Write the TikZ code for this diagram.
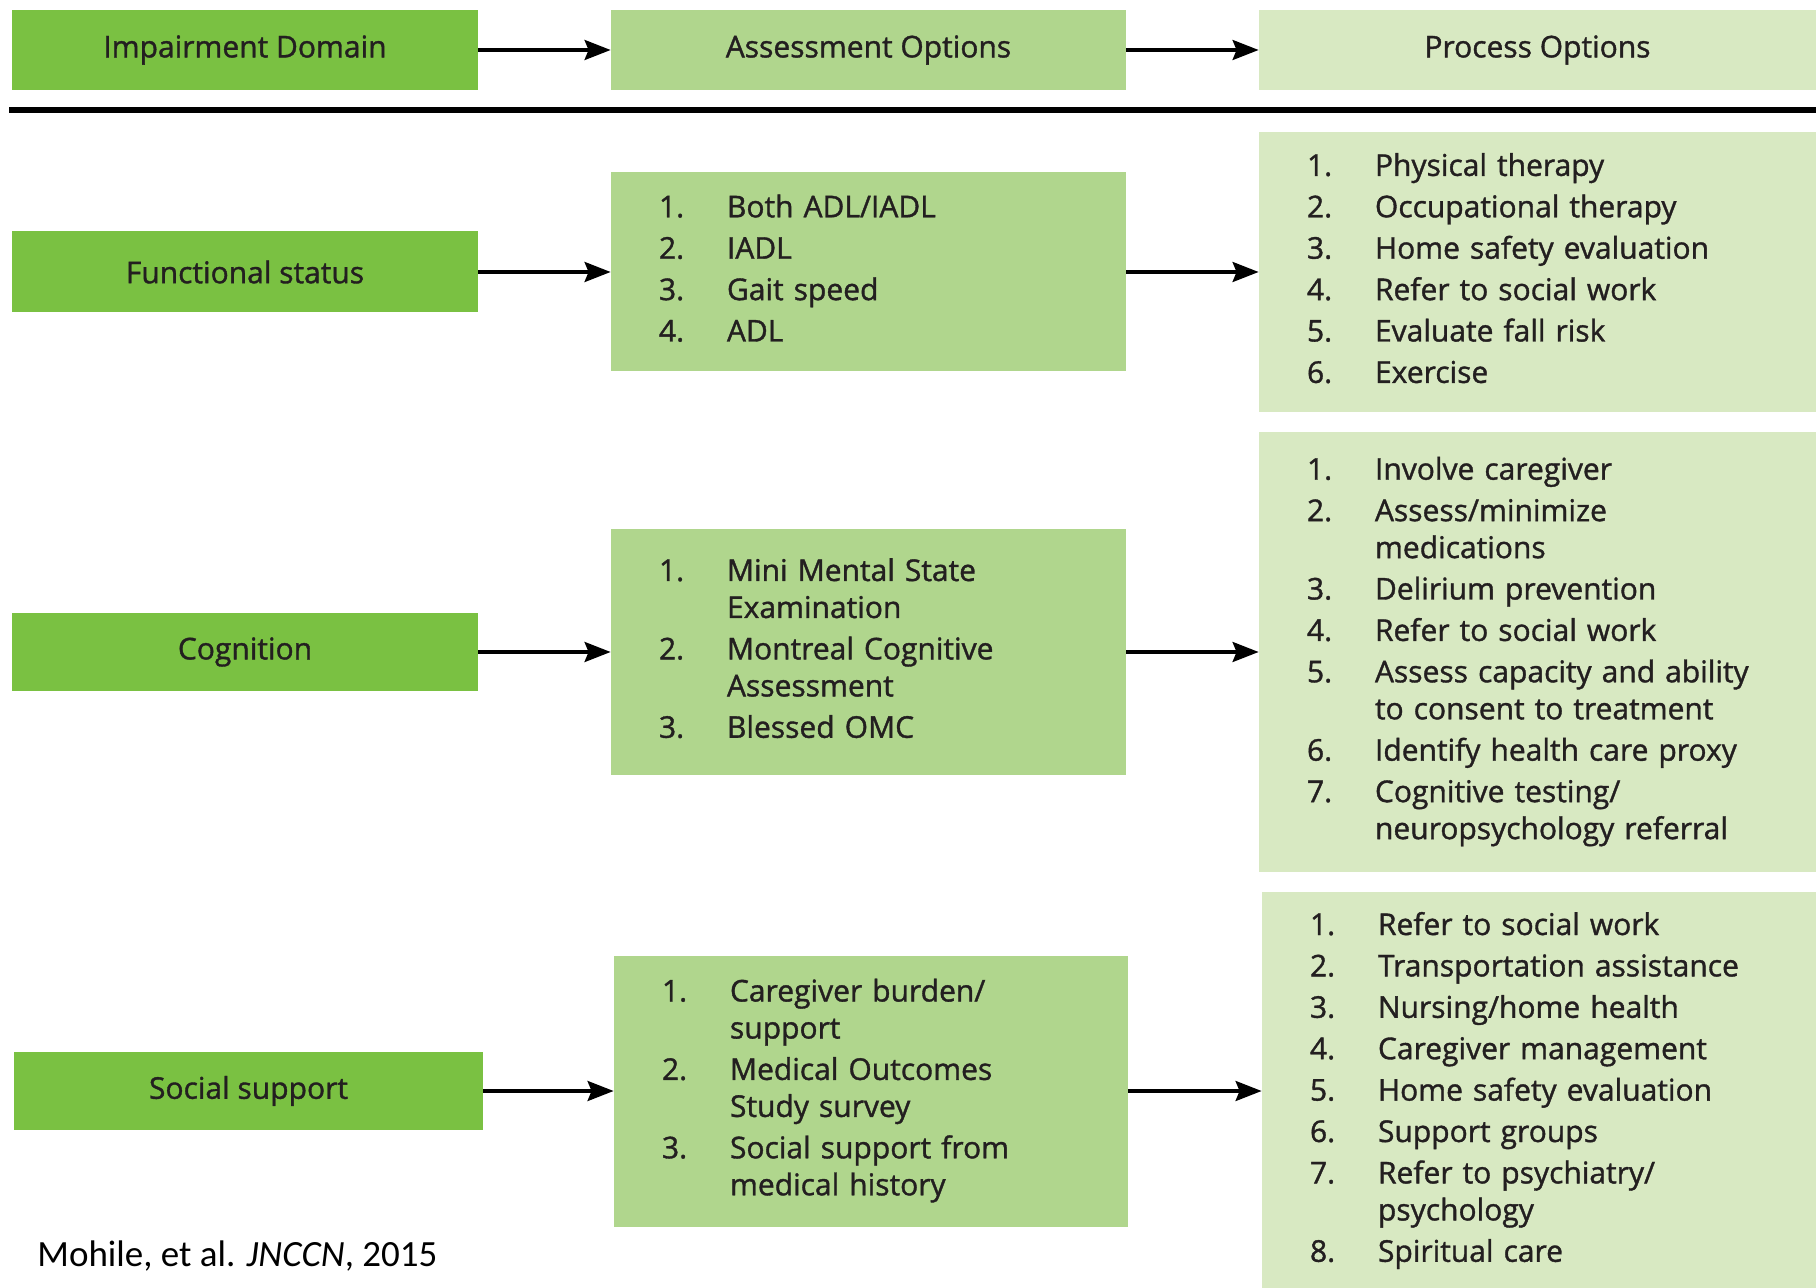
\documentclass[tikz,border=0pt]{standalone}
\usepackage{fontspec}
\setmainfont{Open Sans}[FakeBold=1.2]
\newfontfamily\citefont{Carlito}
\usepackage{xcolor}
\usepackage{tikz}
\usetikzlibrary{arrows.meta}

\definecolor{domgreen}{RGB}{122,193,66}
\definecolor{assgreen}{RGB}{176,214,141}
\definecolor{procgreen}{RGB}{216,233,194}
\definecolor{inkgray}{RGB}{35,31,32}
\newcommand{\optlist}[1]{\fontsize{15}{18.5}\selectfont\begin{tabular}{@{}p{34pt}@{}l@{}}#1\end{tabular}}

\begin{document}
\begin{tikzpicture}[x=1pt, y=-1pt, font=\fontsize{15}{18}\selectfont, text=inkgray,
  dom/.style={fill=domgreen, minimum width=233pt, minimum height=40pt, inner sep=0pt},
  ass/.style={fill=assgreen, inner xsep=24pt, inner ysep=0pt, align=left},
  proc/.style={fill=procgreen, inner xsep=24pt, inner ysep=0pt, align=left},
  head/.style={inner sep=0pt, minimum height=40pt, align=center},
  arr/.style={-{Stealth[length=13pt, width=10pt, inset=2pt]}, line width=1.7pt}]
\useasboundingbox (0,0) rectangle (908,644);
% header row
\node[dom] (hdom) at (122.5,25) {Impairment Domain};
\node[ass, head, minimum width=257.5pt] (hass) at (434.25,25) {Assessment Options};
\node[proc, head, minimum width=278.5pt] (hproc) at (768.75,25) {Process Options};
\draw[arr] (hdom) -- (hass);
\draw[arr] (hass) -- (hproc);
\draw[line width=3pt] (4.5,55) -- (908,55);
% functional status
\node[dom, minimum height=40.5pt] (fs) at (122.5,136) {Functional status};
\node[ass, text width=209.5pt, minimum height=99.5pt] (fsa) at (434.25,136) {\optlist{
  1. & Both ADL/IADL\\[2.2pt]
  2. & IADL\\[2.2pt]
  3. & Gait speed\\[2.2pt]
  4. & ADL}};
\node[proc, text width=230.5pt, minimum height=140pt] (fsp) at (768.75,136) {\optlist{
  1. & Physical therapy\\[2.2pt]
  2. & Occupational therapy\\[2.2pt]
  3. & Home safety evaluation\\[2.2pt]
  4. & Refer to social work\\[2.2pt]
  5. & Evaluate fall risk\\[2.2pt]
  6. & Exercise}};
\draw[arr] (fs) -- (fsa);
\draw[arr] (fsa) -- (fsp);
% cognition
\node[dom, minimum height=39pt] (cog) at (122.5,326) {Cognition};
\node[ass, text width=209.5pt, minimum height=123pt] (coga) at (434.25,326) {\optlist{
  1. & Mini Mental State\\
     & Examination\\[2.2pt]
  2. & Montreal Cognitive\\
     & Assessment\\[2.2pt]
  3. & Blessed OMC}};
\node[proc, text width=230.5pt, minimum height=220pt] (cogp) at (768.75,326) {\optlist{
  1. & Involve caregiver\\[2.2pt]
  2. & Assess/minimize\\
     & medications\\[2.2pt]
  3. & Delirium prevention\\[2.2pt]
  4. & Refer to social work\\[2.2pt]
  5. & Assess capacity and ability\\
     & to consent to treatment\\[2.2pt]
  6. & Identify health care proxy\\[2.2pt]
  7. & Cognitive testing/\\
     & neuropsychology referral}};
\draw[arr] (cog) -- (coga);
\draw[arr] (coga) -- (cogp);
% social support
\node[dom, minimum width=234.5pt, minimum height=39pt] (soc) at (124.25,545.5) {Social support};
\node[ass, text width=209pt, minimum height=135.5pt] (soca) at (435.5,545.5) {\optlist{
  1. & Caregiver burden/\\
     & support\\[2.2pt]
  2. & Medical Outcomes\\
     & Study survey\\[2.2pt]
  3. & Social support from\\
     & medical history}};
\node[proc, text width=229pt, minimum height=199pt] (socp) at (769.5,545.5) {\optlist{
  1. & Refer to social work\\[2.2pt]
  2. & Transportation assistance\\[2.2pt]
  3. & Nursing/home health\\[2.2pt]
  4. & Caregiver management\\[2.2pt]
  5. & Home safety evaluation\\[2.2pt]
  6. & Support groups\\[2.2pt]
  7. & Refer to psychiatry/\\
     & psychology\\[2.2pt]
  8. & Spiritual care}};
\draw[arr] (soc) -- (soca);
\draw[arr] (soca) -- (socp);
% source
\node[anchor=west, inner sep=0pt, text=black, font=\citefont\fontsize{18.5}{22}\selectfont] (src) at (18.5,628) {Mohile, et al. \textit{JNCCN}, 2015};
\end{tikzpicture}
\end{document}
